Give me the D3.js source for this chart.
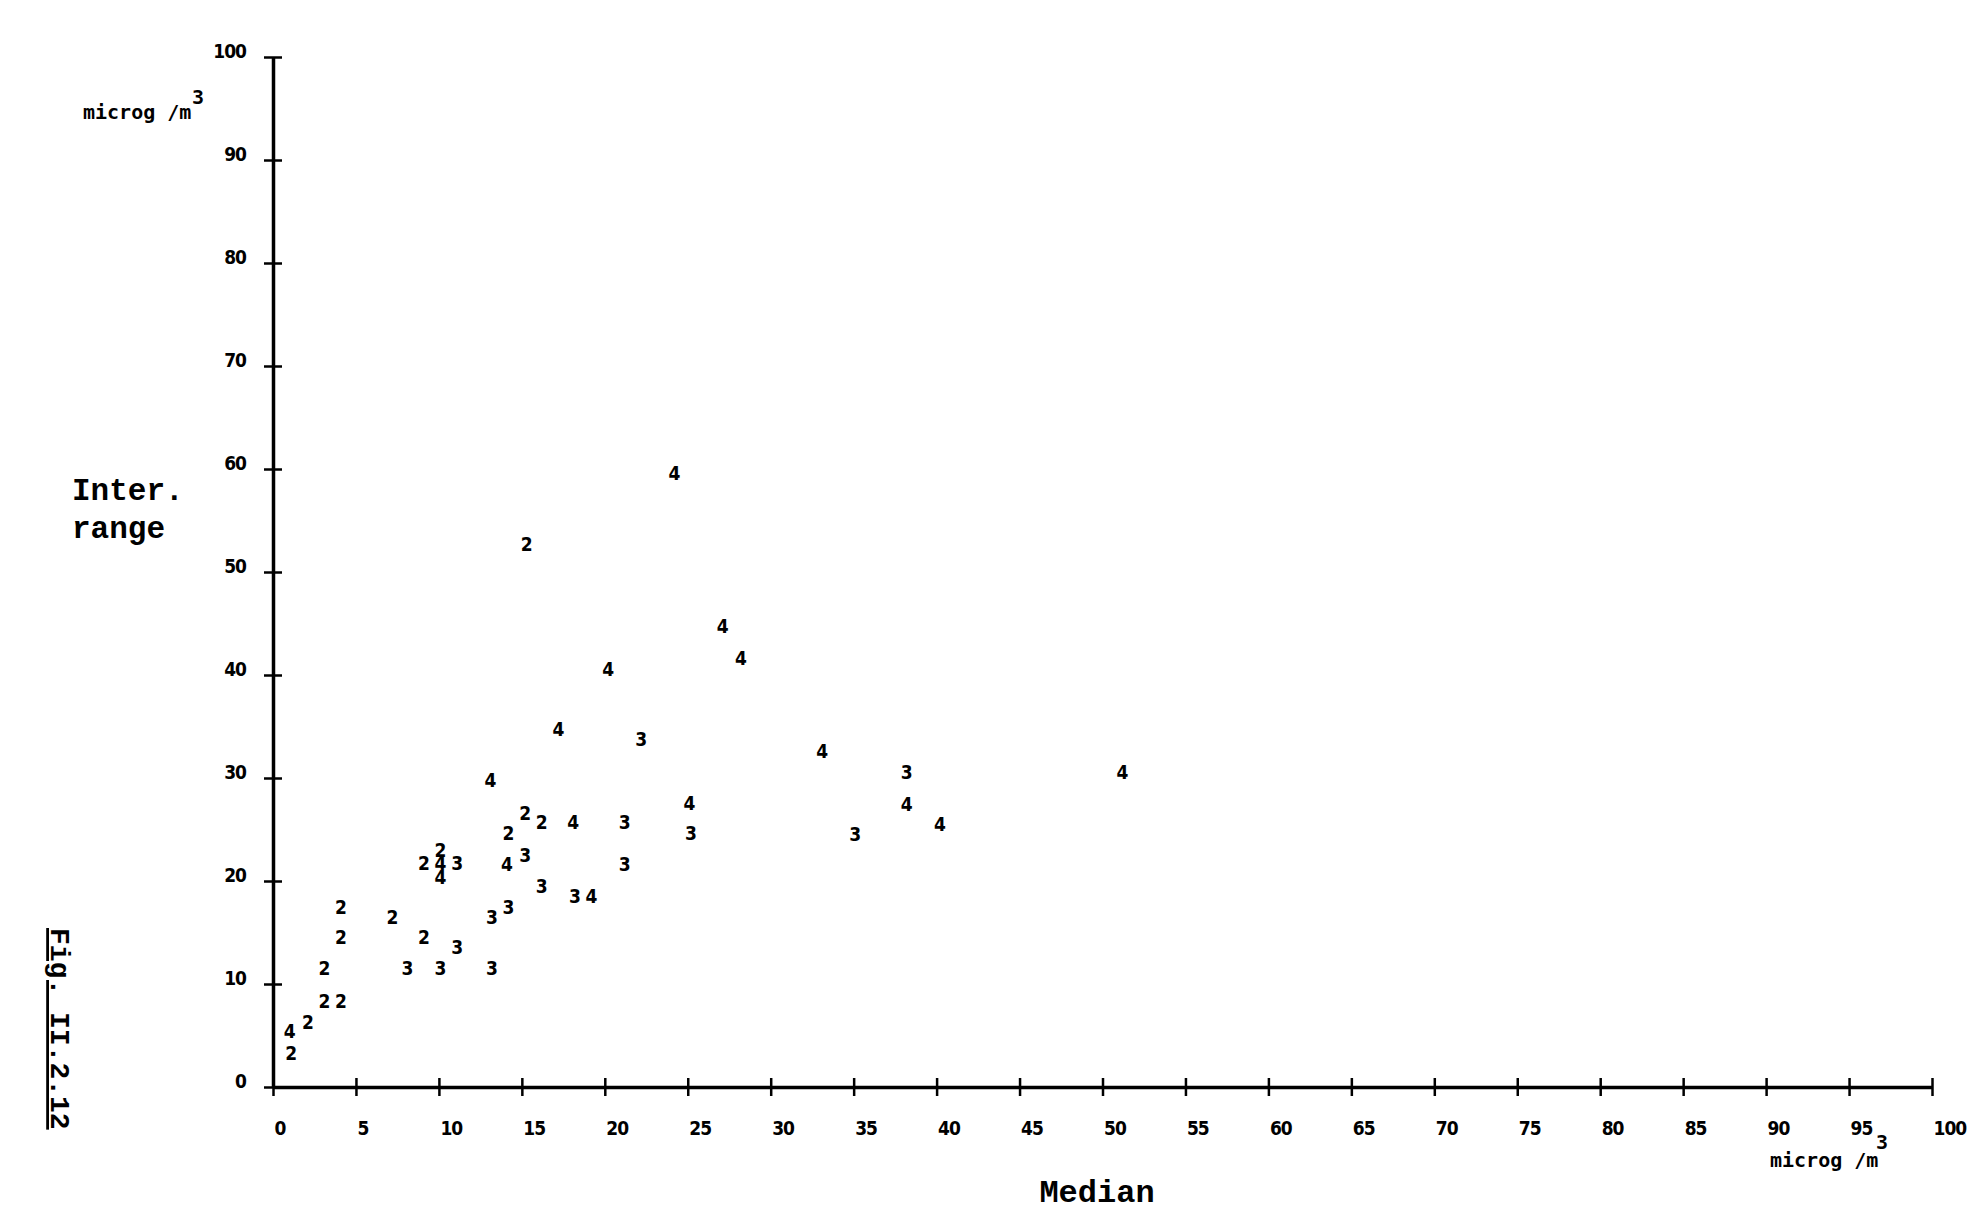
<!DOCTYPE html>
<html>
<head>
<meta charset="utf-8">
<script src="https://cdn.jsdelivr.net/npm/d3@7"></script>
<style>
  html, body { margin: 0; padding: 0; background: #ffffff; }
  svg { display: block; }
  .tick-label { font-family: "DejaVu Sans Condensed", "DejaVu Sans", sans-serif; font-stretch: condensed; font-weight: bold; font-size: 19px; letter-spacing: -1px; fill: #000; }
  .pt { font-family: "DejaVu Sans Condensed", "DejaVu Sans", sans-serif; font-stretch: condensed; font-weight: bold; font-size: 19px; fill: #000; }
  .unit { font-family: "DejaVu Sans Mono", monospace; font-weight: bold; font-size: 20px; fill: #000; }
  .title { font-family: "Liberation Mono", "Courier New", monospace; font-weight: bold; fill: #000; }
</style>
</head>
<body>
<script>
// ---- data ----
// median (x), interquartile range (y), and the class digit drawn at each point
const medianValues = [1.1, 1.0, 2.1, 3.1, 4.1, 3.1, 4.1, 4.1, 7.2, 8.1, 9.1, 10.1, 11.1, 13.2, 13.2, 14.2, 16.2, 18.2, 19.2,
  9.1, 10.1, 10.1, 10.1, 11.1, 14.1, 15.2, 14.2, 15.2, 16.2, 18.1, 21.2, 21.2, 25.1, 25.2,
  13.1, 17.2, 22.2, 20.2, 27.1, 28.2, 15.3, 24.2, 33.1, 38.2, 38.2, 40.2, 35.1, 51.2];
const rangeValues = [3.3, 5.4, 6.3, 8.3, 8.3, 11.5, 14.5, 17.5, 16.5, 11.5, 14.5, 11.5, 13.6, 11.5, 16.5, 17.5, 19.5, 18.5, 18.5,
  21.7, 23.0, 21.7, 20.4, 21.7, 21.6, 22.5, 24.6, 26.6, 25.7, 25.7, 25.7, 21.6, 27.6, 24.6,
  29.8, 34.7, 33.8, 40.6, 44.7, 41.6, 52.7, 59.6, 32.6, 30.6, 27.5, 25.5, 24.5, 30.6];
const classLabels = ["2", "4", "2", "2", "2", "2", "2", "2", "2", "3", "2", "3", "3", "3", "3", "3", "3", "3", "4",
  "2", "2", "4", "4", "3", "4", "3", "2", "2", "2", "4", "3", "3", "4", "3",
  "4", "4", "3", "4", "4", "4", "2", "4", "4", "3", "4", "4", "3", "4"];

const xTicks = [0, 5, 10, 15, 20, 25, 30, 35, 40, 45, 50, 55, 60, 65, 70, 75, 80, 85, 90, 95, 100];
const yTicks = [0, 10, 20, 30, 40, 50, 60, 70, 80, 90, 100];
const xTitle = "Median";
const yTitleLines = ["Inter.", "range"];
const unitText = "microg /m";
const unitSup = "3";
const figLabel = "Fig. II.2.12";

// ---- drawing ----
const W = 1970, H = 1213;
const svg = d3.select("body").append("svg").attr("width", W).attr("height", H);

const x = d3.scaleLinear().domain([0, 100]).range([273, 1932]);
const y = d3.scaleLinear().domain([0, 100]).range([1087, 57]);

// Y axis
const yAxis = svg.append("g").attr("transform", `translate(${x(0)},0)`)
  .call(d3.axisLeft(y).tickValues(yTicks).tickSize(9).tickSizeOuter(0).tickFormat(d3.format("d")));
yAxis.select(".domain").attr("stroke", "#000").attr("stroke-width", 3.5);
yAxis.selectAll(".tick line").attr("x1", -9).attr("x2", 9).attr("stroke", "#000").attr("stroke-width", 2.5);
yAxis.selectAll(".tick text").attr("class", "tick-label").attr("x", -27).attr("dy", 0)
  .attr("text-anchor", "end").attr("font-size", null).attr("font-family", null);

// X axis
const xAxis = svg.append("g").attr("transform", `translate(0,${y(0)})`)
  .call(d3.axisBottom(x).tickValues(xTicks).tickSize(9).tickSizeOuter(0).tickFormat(d3.format("d")));
xAxis.select(".domain").attr("stroke", "#000").attr("stroke-width", 3.5);
xAxis.selectAll(".tick line").attr("y1", -9).attr("y2", 9).attr("stroke", "#000").attr("stroke-width", 2.5);
xAxis.selectAll(".tick text").attr("class", "tick-label").attr("x", 1).attr("y", 48).attr("dy", 0)
  .attr("text-anchor", "start").attr("font-size", null).attr("font-family", null);
svg.selectAll(".domain").attr("fill", "none");

// points: class digits
const pts = d3.range(medianValues.length).map(i => ({ m: medianValues[i], r: rangeValues[i], c: classLabels[i] }));
svg.append("g").selectAll("text").data(pts).join("text")
  .attr("class", "pt")
  .attr("x", d => x(d.m))
  .attr("y", d => y(d.r))
  .attr("dy", "0.36em")
  .attr("text-anchor", "middle")
  .text(d => d.c);

// y unit
svg.append("text").attr("class", "unit").attr("x", 83).attr("y", 119).text(unitText);
svg.append("text").attr("class", "unit").attr("x", 192).attr("y", 104).text(unitSup);

// x unit
svg.append("text").attr("class", "unit").attr("x", 1770).attr("y", 1167).text(unitText);
svg.append("text").attr("class", "unit").attr("x", 1876).attr("y", 1149).text(unitSup);

// y title
svg.append("g").selectAll("text").data(yTitleLines).join("text")
  .attr("class", "title").attr("font-size", 31)
  .attr("x", 72).attr("y", (d, i) => 500 + i * 38)
  .text(d => d);

// x title
svg.append("text").attr("class", "title").attr("font-size", 32)
  .attr("x", 1097).attr("y", 1202).attr("text-anchor", "middle").text(xTitle);

// figure label, rotated
svg.append("text").attr("class", "title").attr("font-size", 28)
  .attr("transform", "translate(51,928) rotate(90)")
  .attr("text-decoration", "underline")
  .text(figLabel);
</script>
</body>
</html>
